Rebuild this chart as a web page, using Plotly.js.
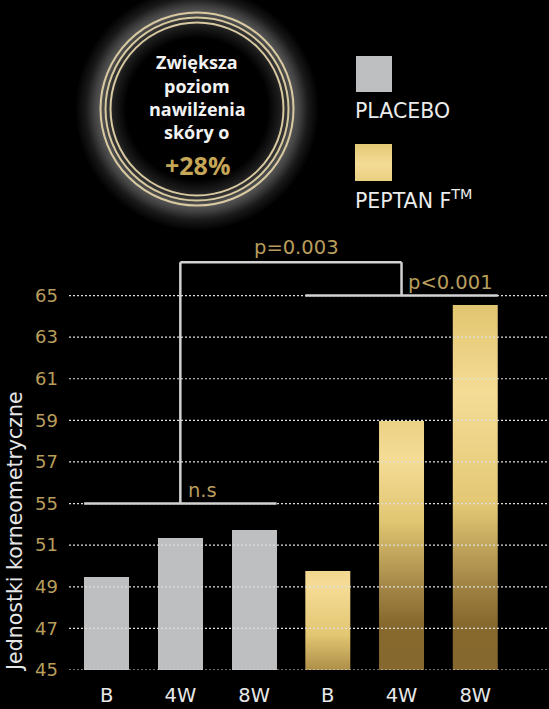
<!DOCTYPE html>
<html><head><meta charset="utf-8">
<script src="https://cdn.plot.ly/plotly-3.0.1.min.js"></script>
<style>html,body{margin:0;padding:0;background:#000;overflow:hidden}</style>
</head><body><div id="chart" style="width:549px;height:709px"></div>
<script>
// ---- data ----
const categories = ['B', '4W', '8W', 'B', '4W', '8W'];
const placeboValues = [49.47, 51.33, 51.73];
const peptanValues = [49.76, 56.97, 62.55];
const tickValues = [45, 47, 49, 51, 53, 55, 57, 59, 61, 63];
const tickLabels = ['45', '47', '49', '51', '55', '57', '59', '61', '63', '65'];
const seriesNames = ['PLACEBO', 'PEPTAN F<sup>TM</sup>'];
const badgeLines = ['Zwiększa', 'poziom', 'nawilżenia', 'skóry o'];
const badgeValue = '+28%';
const yTitle = 'Jednostki korneometryczne';
const sigLabels = ['n.s', 'p=0.003', 'p&lt;0.001'];
// significance bracket levels (axis units)
const nsLevel = 53;
const topLevel = 64.6;
const rightLevel = 63;

// ---- styles ----
const W = 549, H = 709;
const FONT = '"DejaVu Sans", sans-serif';
const GOLD_TXT = '#b89d5c';
const GRAY_BAR = '#bebfc0';
const BAR_W = 0.61;
const half = BAR_W / 2;
const peptanScales = [
  [[0, '#ad8f48'], [0.35, '#e2c672'], [0.85, '#f5dc96'], [1, '#f1d690']],
  [[0, '#85682d'], [0.19, '#87692e'], [0.33, '#a38646'], [0.6, '#e1c673'], [0.85, '#f5dc96'], [1, '#ebd185']],
  [[0, '#85682d'], [0.13, '#87692e'], [0.24, '#a38646'], [0.45, '#e2c874'], [0.76, '#f5dc96'], [1, '#e1c570']]
];

const traces = [];
// placebo bars
traces.push({
  type: 'bar', x: [0, 1, 2], y: placeboValues, width: BAR_W,
  marker: {color: GRAY_BAR, line: {width: 0}}, hoverinfo: 'skip', showlegend: false
});
// peptan bars (gradient filled)
peptanValues.forEach((v, i) => {
  const c = i + 3;
  traces.push({
    type: 'scatter', mode: 'lines', fill: 'toself',
    x: [c - half, c + half, c + half, c - half, c - half],
    y: [45, 45, v, v, 45],
    line: {width: 0, color: 'rgba(0,0,0,0)'},
    fillgradient: {type: 'vertical', start: 45, stop: v, colorscale: peptanScales[i]},
    hoverinfo: 'skip', showlegend: false
  });
});

// decorative overlay (pixel coordinates on x2/y2)
function circle(cx, cy, r, n) {
  const xs = [], ys = [];
  for (let k = 0; k <= n; k++) {
    const a = 2 * Math.PI * k / n;
    xs.push(cx + r * Math.cos(a)); ys.push(cy + r * Math.sin(a));
  }
  return {xs, ys};
}
const CX = 197, CY = 109, GR = 122;
const g = circle(CX, CY, GR, 180);
traces.push({
  type: 'scatter', mode: 'lines', fill: 'toself', xaxis: 'x2', yaxis: 'y2',
  x: g.xs, y: g.ys, line: {width: 0, color: 'rgba(0,0,0,0)'},
  fillgradient: {type: 'radial', colorscale: [
    [0, '#000000'], [0.58, '#000000'], [0.68, '#1c1c1c'], [0.75, '#3c3c3c'],
    [0.79, '#585858'], [0.84, '#424242'], [0.91, '#1a1a1a'], [1, '#000000']]},
  hoverinfo: 'skip', showlegend: false
});
// gold legend square
traces.push({
  type: 'scatter', mode: 'lines', fill: 'toself', xaxis: 'x2', yaxis: 'y2',
  x: [355, 392, 392, 355, 355], y: [144, 144, 181, 181, 144],
  line: {width: 0, color: 'rgba(0,0,0,0)'},
  fillgradient: {type: 'vertical', start: 144, stop: 181, colorscale: [[0, '#e3c874'], [0.55, '#f5dc96'], [1, '#e8cf80']]},
  hoverinfo: 'skip', showlegend: false
});

const shapes = [];
// dotted gridlines above bars
tickValues.forEach(t => {
  shapes.push({type: 'line', xref: 'paper', yref: 'y', x0: 69 / W, x1: 1, y0: t, y1: t,
    line: {color: '#dedede', width: 1.2, dash: '2px,2px'}, layer: 'above'});
});
// rings
[96.5, 91.5, 86.5].forEach(r => {
  shapes.push({type: 'circle', xref: 'x2', yref: 'y2', x0: CX - r, x1: CX + r, y0: CY - r, y1: CY + r,
    line: {color: '#d8c9a0', width: 2}, fillcolor: 'rgba(0,0,0,0)', layer: 'above'});
});
// gray legend square
shapes.push({type: 'rect', xref: 'x2', yref: 'y2', x0: 356, x1: 392, y0: 56, y1: 92,
  fillcolor: GRAY_BAR, line: {width: 0}, layer: 'above'});
// significance brackets
const BR = {color: '#d2d2d2', width: 2.5};
const seg = (x0, y0, x1, y1) => shapes.push({type: 'line', xref: 'x', yref: 'y', x0, y0, x1, y1, line: BR, layer: 'above'});
seg(0 - half, nsLevel, 2 + half, nsLevel);
seg(1, nsLevel, 1, topLevel);
seg(1, topLevel, 4, topLevel);
seg(4, topLevel, 4, rightLevel);
seg(3 - half, rightLevel, 5 + half, rightLevel);

const annotations = [];
// significance labels
annotations.push({xref: 'x', yref: 'y', x: 1.08, y: nsLevel + 0.65, text: sigLabels[0], showarrow: false,
  xanchor: 'left', yanchor: 'middle', font: {family: FONT, size: 19.5, color: GOLD_TXT}});
annotations.push({xref: 'x', yref: 'y', x: 2.58, y: topLevel + 0.7, text: sigLabels[1], showarrow: false,
  xanchor: 'center', yanchor: 'middle', font: {family: FONT, size: 19.5, color: GOLD_TXT}});
annotations.push({xref: 'x', yref: 'y', x: 4.06, y: rightLevel + 0.65, text: sigLabels[2], showarrow: false,
  xanchor: 'left', yanchor: 'middle', font: {family: FONT, size: 19.5, color: GOLD_TXT}});
// y title
annotations.push({xref: 'x2', yref: 'y2', x: 15, y: 532, text: yTitle, textangle: -90, showarrow: false,
  xanchor: 'center', yanchor: 'middle', font: {family: FONT, size: 20.5, color: '#e6e6e6'}});
// legend labels
annotations.push({xref: 'x2', yref: 'y2', x: 353, y: 111, text: seriesNames[0], showarrow: false,
  xanchor: 'left', yanchor: 'middle', font: {family: FONT, size: 20.5, color: '#ececec'}});
annotations.push({xref: 'x2', yref: 'y2', x: 353, y: 199, text: seriesNames[1], showarrow: false,
  xanchor: 'left', yanchor: 'middle', font: {family: FONT, size: 20.5, color: '#ececec'}});
// badge text
const lineY = [62, 86, 109, 132];
badgeLines.forEach((t, i) => {
  annotations.push({xref: 'x2', yref: 'y2', x: CX, y: lineY[i], text: '<b>' + t + '</b>', showarrow: false,
    xanchor: 'center', yanchor: 'middle', font: {family: '"Open Sans", sans-serif', size: 18, color: '#f2f2f2'}});
});
annotations.push({xref: 'x2', yref: 'y2', x: CX, y: 165, text: '<b>' + badgeValue + '</b>', showarrow: false,
  xanchor: 'center', yanchor: 'middle', font: {family: '"Open Sans", sans-serif', size: 25, color: '#c6a657'}});

const layout = {
  width: W, height: H, margin: {l: 0, r: 0, t: 0, b: 0},
  paper_bgcolor: '#000', plot_bgcolor: 'rgba(0,0,0,0)',
  showlegend: false, bargap: 0,
  xaxis: {domain: [69 / W, 1], range: [-0.51, 6.0], tickvals: [0, 1, 2, 3, 4, 5], ticktext: categories,
    showgrid: false, zeroline: false, showline: false, ticks: '', ticklabelstandoff: 11,
    tickfont: {family: FONT, size: 19.5, color: '#e8e8e8'}, fixedrange: true},
  yaxis: {domain: [39 / H, 469 / H], range: [45, 65.67], tickvals: tickValues, ticktext: tickLabels,
    showgrid: false, zeroline: false, showline: false, ticks: '', ticklabelstandoff: 10,
    tickfont: {family: FONT, size: 18, color: GOLD_TXT}, fixedrange: true},
  xaxis2: {domain: [0, 1], range: [0, W], visible: false, anchor: 'y2', fixedrange: true},
  yaxis2: {domain: [0, 1], range: [H, 0], visible: false, anchor: 'x2', fixedrange: true},
  shapes, annotations
};
Plotly.newPlot('chart', traces, layout, {staticPlot: true, displayModeBar: false});
</script></body></html>
